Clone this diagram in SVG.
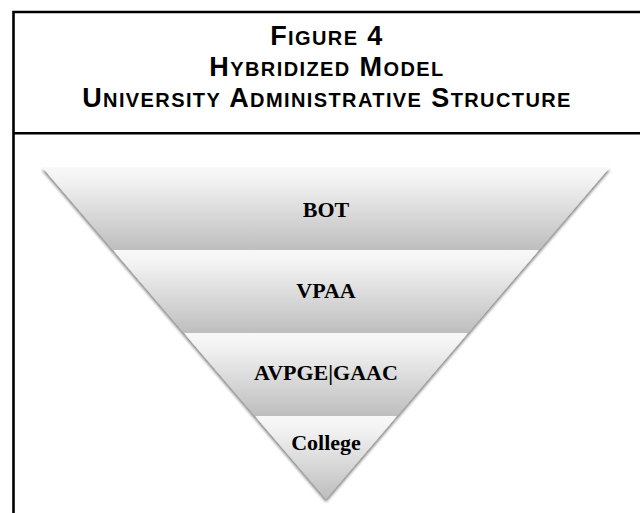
<svg xmlns="http://www.w3.org/2000/svg" width="640" height="513" viewBox="0 0 640 513">
  <style>
    .frame { fill: none; stroke: #000; stroke-width: 2.6; }
    .title { font-family: "Liberation Sans", Arial, sans-serif; font-weight: bold; font-size: 27px; letter-spacing: 1.4px; fill: #000; text-anchor: middle; }
    .sc { font-size: 20px; }
    .band { fill: url(#bandGrad); filter: url(#shadow); }
    .label { font-family: "Liberation Serif", "Times New Roman", serif; font-weight: bold; font-size: 22px; fill: #000; text-anchor: middle; }
  </style>
  <defs>
    <linearGradient id="bandGrad" x1="0" y1="0" x2="0" y2="1">
      <stop offset="0" stop-color="#f8f8f8"/>
      <stop offset="0.15" stop-color="#f3f3f3"/>
      <stop offset="1" stop-color="#bebebe"/>
    </linearGradient>
    <filter id="shadow" x="-10%" y="-10%" width="120%" height="130%">
      <feGaussianBlur in="SourceAlpha" stdDeviation="1.6"/>
      <feOffset dx="0" dy="2.5"/>
      <feComponentTransfer><feFuncA type="linear" slope="0.5"/></feComponentTransfer>
      <feMerge><feMergeNode/><feMergeNode in="SourceGraphic"/></feMerge>
    </filter>
  </defs>
  <rect width="640" height="513" fill="#fff"/>
  <g id="frame">
    <path class="frame" d="M640 12 H13.5 V513"/>
    <line class="frame" x1="13.5" y1="133.3" x2="640" y2="133.3"/>
  </g>
  <g id="title">
    <text class="title" x="327" y="45">F<tspan class="sc">IGURE</tspan> 4</text>
    <text class="title" x="327" y="76">H<tspan class="sc">YBRIDIZED</tspan> M<tspan class="sc">ODEL</tspan></text>
    <text class="title" x="327" y="107">U<tspan class="sc">NIVERSITY</tspan> A<tspan class="sc">DMINISTRATIVE</tspan> S<tspan class="sc">TRUCTURE</tspan></text>
  </g>
  <g id="funnel">
    <g id="node-bot">
      <polygon class="band" points="42,167 610,167 539,250 113,250"/>
      <text class="label" x="326" y="217">BOT</text>
    </g>
    <g id="node-vpaa">
      <polygon class="band" points="113,250 539,250 468,333 184,333"/>
      <text class="label" x="326" y="298">VPAA</text>
    </g>
    <g id="node-avpge">
      <polygon class="band" points="184,333 468,333 397,416 255,416"/>
      <text class="label" x="326" y="380">AVPGE|GAAC</text>
    </g>
    <g id="node-college">
      <polygon class="band" points="255,416 397,416 326,499"/>
      <text class="label" x="326" y="450">College</text>
    </g>
  </g>
</svg>
